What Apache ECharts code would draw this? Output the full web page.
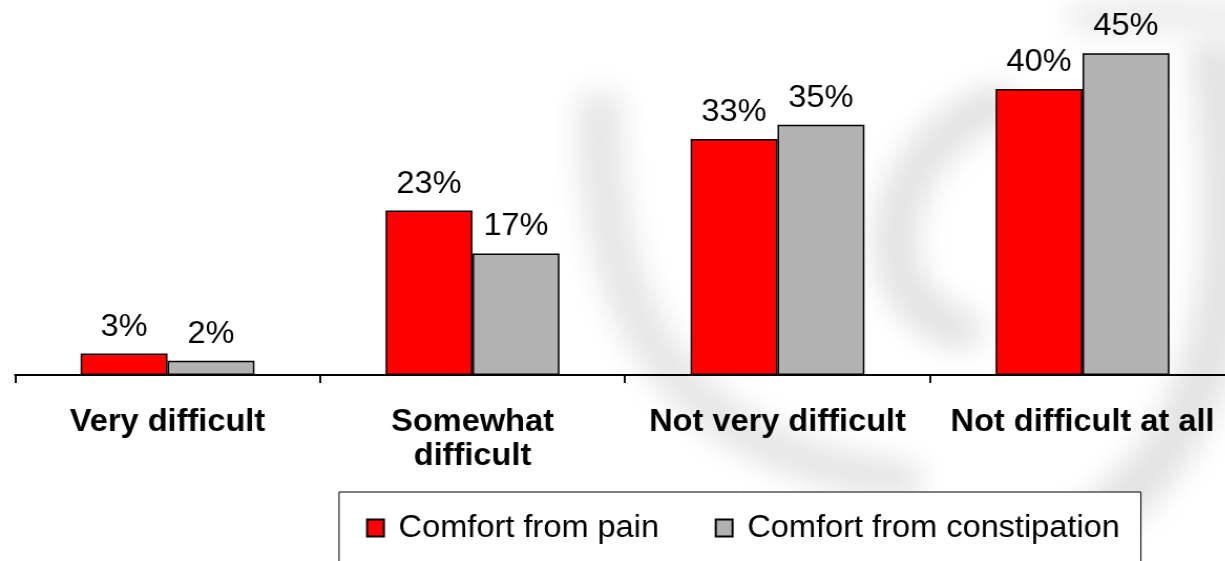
<!DOCTYPE html>
<html>
<head>
<meta charset="utf-8">
<script src="https://cdn.jsdelivr.net/npm/echarts@6/dist/echarts.min.js"></script>
<style>
  html, body { margin: 0; padding: 0; width: 1225px; height: 561px; overflow: hidden; background: #fff; }
  /* the chart is laid out slightly narrower and widened horizontally, giving the broad letterforms */
  #chart { width: 1180px; height: 561px; transform: scaleX(1.05); transform-origin: 0 0; }
</style>
</head>
<body>
<div id="chart"></div>
<script>
const categories = ['Very difficult', 'Somewhat\ndifficult', 'Not very difficult', 'Not difficult at all'];
const seriesNames = ['Comfort from pain', 'Comfort from constipation'];
const painValues = [3, 23, 33, 40];
const constipationValues = [2, 17, 35, 45];

const FONT = '"Liberation Sans", Arial, sans-serif';
const SX = 1.05;

const chart = echarts.init(document.getElementById('chart'));

function barSeries(name, values, color) {
  return {
    name: name,
    type: 'bar',
    data: values,
    barGap: '0%',
    barCategoryGap: '43%',
    z: 5,
    itemStyle: { color: color, borderColor: '#000', borderWidth: 1.5 },
    label: {
      show: true,
      position: 'top',
      distance: 11,
      formatter: '{c}%',
      fontFamily: FONT,
      fontSize: 31,
      color: '#000'
    },
    emphasis: { disabled: true }
  };
}

// soft grey swooshes of the background logo: each stroke sits off-canvas
// and only its blurred shadow is shifted into view
const SHIFT = 3000;
function softStroke(pts, width, shade) {
  const [x1, y1, c1x, c1y, c2x, c2y, x2, y2] = pts;
  return {
    type: 'bezierCurve',
    silent: true,
    z: -20,
    shape: {
      x1: x1 / SX - SHIFT, y1: y1, cpx1: c1x / SX - SHIFT, cpy1: c1y,
      cpx2: c2x / SX - SHIFT, cpy2: c2y, x2: x2 / SX - SHIFT, y2: y2
    },
    style: {
      stroke: '#000', lineWidth: width, lineCap: 'round', fill: null,
      shadowColor: shade, shadowBlur: 28, shadowOffsetX: SHIFT
    }
  };
}

const watermark = [
  softStroke([600, 110, 600, 300, 660, 450, 900, 480], 42, '#e6e6e6'),
  softStroke([995, 105, 880, 150, 860, 300, 960, 330], 42, '#e3e3e3'),
  softStroke([1215, 60, 1245, 250, 1230, 430, 1090, 525], 48, '#e3e3e3'),
  softStroke([1085, 18, 1140, 14, 1190, 14, 1240, 20], 34, '#ececec')
];

chart.setOption({
  animation: false,
  backgroundColor: '#fff',
  graphic: { elements: watermark },
  grid: {
    left: 14.3,
    right: 3.8,
    top: 17.5,
    bottom: 186,
    containLabel: false,
    outerBoundsMode: 'none'
  },
  legend: {
    data: seriesNames,
    left: 322.9,
    top: 492,
    orient: 'horizontal',
    icon: 'rect',
    itemWidth: 16,
    itemHeight: 17,
    itemGap: 53,
    borderColor: '#000',
    borderWidth: 1,
    backgroundColor: '#fff',
    padding: [20, 20, 30, 25.7],
    selectedMode: false,
    textStyle: {
      fontFamily: FONT,
      fontSize: 31,
      lineHeight: 32,
      color: '#000',
      padding: [0, 0, 0, 9]
    }
  },
  xAxis: {
    type: 'category',
    data: categories,
    boundaryGap: true,
    axisLine: { show: true, lineStyle: { color: '#000', width: 2 } },
    axisTick: { show: true, length: 8, interval: 0, lineStyle: { color: '#000', width: 1.9 } },
    axisLabel: {
      interval: 0,
      margin: 30,
      fontFamily: FONT,
      fontSize: 31,
      fontWeight: 'bold',
      lineHeight: 34,
      color: '#000'
    },
    splitLine: { show: false }
  },
  yAxis: {
    type: 'value',
    min: 0,
    max: 50,
    show: false,
    splitLine: { show: false }
  },
  series: [
    barSeries(seriesNames[0], painValues, '#ff0000'),
    barSeries(seriesNames[1], constipationValues, '#b2b2b2')
  ]
});
</script>
</body>
</html>
